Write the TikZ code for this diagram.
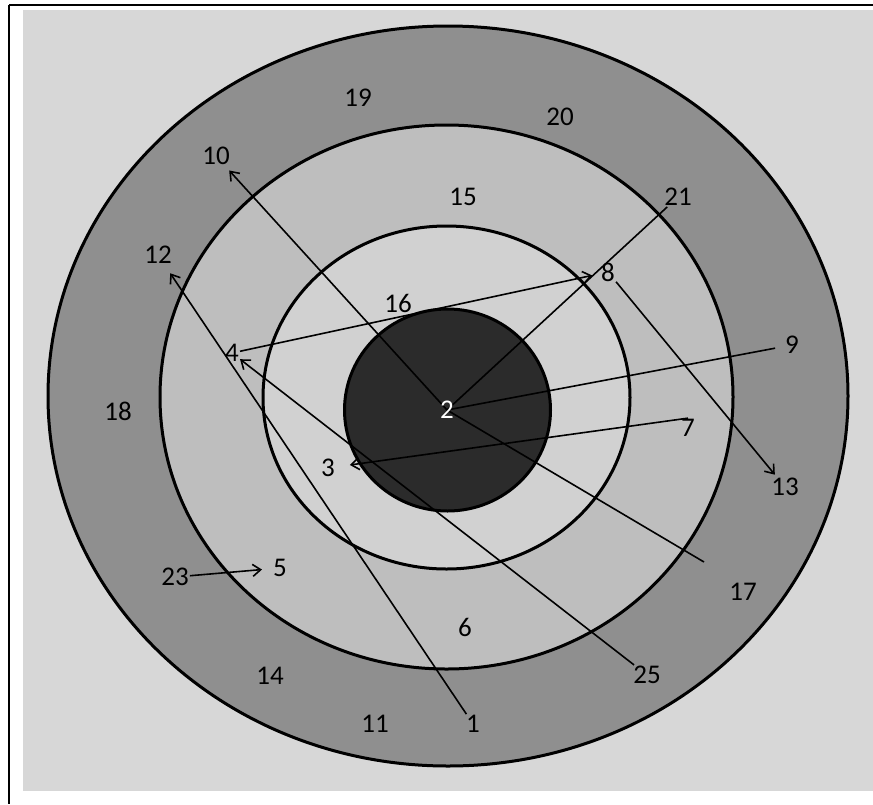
\documentclass[tikz,border=0pt]{standalone}
\usepackage{fontspec}
\setmainfont{Carlito}
\usetikzlibrary{arrows.meta}
\definecolor{bggray}{RGB}{215,215,215}
\definecolor{ringA}{RGB}{143,143,143}
\definecolor{ringB}{RGB}{190,190,190}
\definecolor{ringC}{RGB}{209,209,209}
\definecolor{bull}{RGB}{43,43,43}
\begin{document}
\begin{tikzpicture}[x=1pt,y=-1pt,
  ringline/.style={line width=3pt, draw=black},
  lbl/.style={font=\fontsize{27}{27}\selectfont, inner sep=1pt, text=black},
  conn/.style={line width=1.6pt, draw=black},
  arr/.style={conn, -{Straight Barb[length=8pt,width=12pt]}}
]
\useasboundingbox (0,0) rectangle (873,804);
\fill[white] (0,0) rectangle (873,804);
\fill[bggray] (23,10) rectangle (873,791);
\draw[line width=1.5pt] (9,5) -- (873,5);
\draw[line width=1.5pt] (9,5) -- (9,804);

% rings
\fill[ringA] (448,396) ellipse [x radius=400pt, y radius=370pt];
\fill[ringB] (446.5,397) ellipse [x radius=286.5pt, y radius=272pt];
\fill[ringC] (446.5,397.5) ellipse [x radius=183.5pt, y radius=171.5pt];
\fill[bull] (447.5,410) ellipse [x radius=103pt, y radius=101pt];
\draw[ringline] (448,396) ellipse [x radius=400pt, y radius=370pt];
\draw[ringline] (446.5,397) ellipse [x radius=286.5pt, y radius=272pt];
\draw[ringline] (446.5,397.5) ellipse [x radius=183.5pt, y radius=171.5pt];
\draw[ringline] (447.5,410) ellipse [x radius=103pt, y radius=101pt];

% labels
\node[lbl] (n19) at (358,98) {19};
\node[lbl] (n20) at (560,117) {20};
\node[lbl] (n10) at (216,156) {10};
\node[lbl] (n15) at (463,197) {15};
\node[lbl] (n21) at (678,197) {21};
\node[lbl] (n12) at (158,255) {12};
\node[lbl] (n8) at (608,272) {8};
\node[lbl] (n16) at (398,303) {16};
\node[lbl] (n4) at (232,353) {4};
\node[lbl] (n9) at (792,345) {9};
\node[lbl] (n18) at (118,411) {18};
\node[lbl] (n7) at (688,428) {7};
\node[lbl] (n3) at (328,468) {3};
\node[lbl] (n13) at (785,487) {13};
\node[lbl] (n23) at (175,577) {23};
\node[lbl] (n5) at (280,568) {5};
\node[lbl] (n17) at (743,592) {17};
\node[lbl] (n6) at (465,627) {6};
\node[lbl] (n14) at (270,676) {14};
\node[lbl] (n25) at (647,675) {25};
\node[lbl] (n11) at (375,724) {11};
\node[lbl] (n1) at (473,724) {1};
\coordinate (n2c) at (447,410);
\coordinate (e17) at (704,562);

% connectors
\draw[arr, shorten >=10pt] (n1) -- (n12);
\draw[arr, shorten >=6pt] (n2c) -- (n10);
\draw[conn] (n2c) -- (n21);
\draw[conn, shorten >=9pt] (n2c) -- (n9);
\draw[conn] (n2c) -- (e17);
\draw[arr, shorten >=8pt] (n4) -- (n8);
\draw[arr, shorten >=3pt] (n8) -- (n13);
\draw[arr] (n25) -- (n4);
\draw[arr, shorten >=14pt] (n7.north) -- (n3);
\draw[arr, shorten >=10pt] (n23) -- (n5);

\node[lbl, text=white] (n2) at (n2c) {2};
\end{tikzpicture}
\end{document}
